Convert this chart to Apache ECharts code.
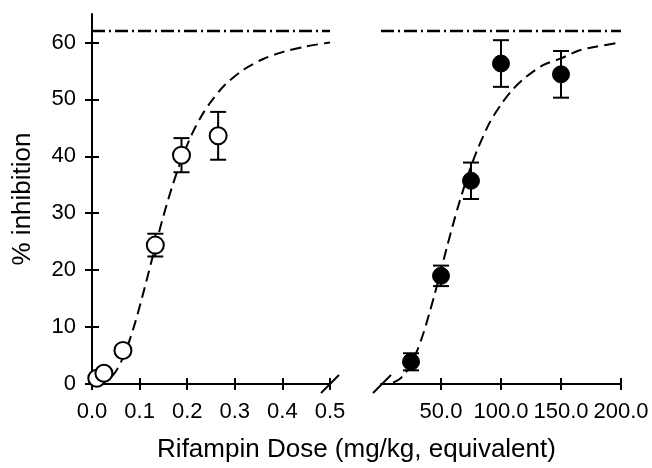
<!DOCTYPE html>
<html>
<head>
<meta charset="utf-8">
<script src="https://cdn.jsdelivr.net/npm/echarts@6/dist/echarts.min.js"></script>
<style>
html,body{margin:0;padding:0;background:#fff;}
#c{width:652px;height:468px;}
</style>
</head>
<body>
<div id="c"></div>
<script>
// ---- data ----
var leftDose = [0.01, 0.025, 0.065, 0.133, 0.188, 0.265];
var leftInhib = [1.0, 1.9, 5.9, 24.4, 40.2, 43.6];
var leftErr = [0.5, 0.6, 0.8, 2.0, 3.0, 4.2];

var rightDose = [25, 50, 75, 100, 150];
var rightInhib = [3.9, 19.0, 35.7, 56.3, 54.4];
var rightErr = [1.5, 1.8, 3.2, 4.1, 4.1];

var leftCurveX = [0.01, 0.03, 0.05, 0.07, 0.09, 0.11, 0.13, 0.15, 0.17, 0.19, 0.21, 0.23, 0.25, 0.28, 0.32, 0.36, 0.40, 0.45, 0.50];
var leftCurveY = [0.02, 0.5, 2.2, 5.6, 10.6, 16.7, 23.2, 29.5, 35.1, 39.9, 43.9, 47.1, 49.6, 52.6, 55.3, 57.1, 58.3, 59.3, 60.0];

var rightCurveX = [10, 15, 20, 25, 30, 35, 40, 45, 50, 55, 60, 65, 70, 75, 80, 90, 100, 110, 120, 135, 150, 165, 180, 200];
var rightCurveY = [0.24, 0.8, 1.8, 3.5, 5.8, 8.7, 12.2, 16.0, 20.0, 24.1, 28.0, 31.7, 35.1, 38.2, 41.0, 45.7, 49.1, 51.8, 53.8, 56.0, 57.2, 58.6, 59.3, 60.0];

var maxLevel = 62;
var yTicks = [0, 10, 20, 30, 40, 50, 60];
var leftXTicks = [0, 0.1, 0.2, 0.3, 0.4, 0.5];
var rightXTicks = [50, 100, 150, 200];
var leftXRange = [0, 0.5];
var rightXRange = [0, 200];
var yRange = [0, 65];

var xTitle = 'Rifampin Dose (mg/kg, equivalent)';
var yTitle = '% inhibition';

// ---- chart ----
var FONT = 'Liberation Sans, Arial, sans-serif';
var chart = echarts.init(document.getElementById('c'), null, {renderer: 'canvas'});

function zip(a, b, c) {
  return a.map(function (v, i) { return c ? [v, b[i], c[i]] : [v, b[i]]; });
}

function errItem(params, api) {
  var x = api.value(0), y = api.value(1), e = api.value(2);
  var t = api.coord([x, y + e]);
  var b = api.coord([x, y - e]);
  var hw = 8;
  var st = {stroke: '#000', lineWidth: 2};
  return {
    type: 'group',
    children: [
      {type: 'line', shape: {x1: t[0], y1: t[1], x2: b[0], y2: b[1]}, style: st},
      {type: 'line', shape: {x1: t[0] - hw, y1: t[1], x2: t[0] + hw, y2: t[1]}, style: st},
      {type: 'line', shape: {x1: b[0] - hw, y1: b[1], x2: b[0] + hw, y2: b[1]}, style: st}
    ]
  };
}

var axisLineStyle = {show: true, lineStyle: {color: '#000', width: 2}};
var labelStyle = {color: '#000', fontSize: 22, fontFamily: FONT};

function xAxes(gridIndex, range, ticks, fmt) {
  return [
    {
      type: 'value', gridIndex: gridIndex, position: 'bottom', min: range[0], max: range[1],
      axisLine: axisLineStyle,
      axisTick: {show: true, inside: false, length: 6, customValues: ticks, lineStyle: {color: '#000', width: 2}},
      axisLabel: Object.assign({show: true, margin: 17, customValues: ticks, formatter: fmt}, labelStyle),
      splitLine: {show: false}
    },
    {
      type: 'value', gridIndex: gridIndex, position: 'bottom', offset: 0, min: range[0], max: range[1],
      axisLine: {show: false},
      axisTick: {show: true, inside: true, length: 6, customValues: ticks, lineStyle: {color: '#000', width: 2}},
      axisLabel: {show: false},
      splitLine: {show: false}
    }
  ];
}

var xAxisList = []
  .concat(xAxes(0, leftXRange, leftXTicks, function (v) { return v.toFixed(1); }))
  .concat(xAxes(1, rightXRange, rightXTicks, function (v) { return v.toFixed(1); }));

var yAxisList = [
  {
    type: 'value', gridIndex: 0, position: 'left', min: yRange[0], max: yRange[1],
    name: yTitle, nameLocation: 'middle', nameGap: 56,
    nameTextStyle: {color: '#000', fontSize: 26, fontFamily: FONT},
    axisLine: axisLineStyle,
    axisTick: {show: true, inside: false, length: 7, customValues: yTicks, lineStyle: {color: '#000', width: 2}},
    axisLabel: Object.assign({show: true, margin: 16, customValues: yTicks}, labelStyle),
    splitLine: {show: false}
  },
  {
    type: 'value', gridIndex: 0, position: 'left', offset: 0, min: yRange[0], max: yRange[1],
    axisLine: {show: false},
    axisTick: {show: true, inside: true, length: 7, customValues: yTicks, lineStyle: {color: '#000', width: 2}},
    axisLabel: {show: false},
    splitLine: {show: false}
  },
  {
    type: 'value', gridIndex: 1, min: yRange[0], max: yRange[1],
    axisLine: {show: false}, axisTick: {show: false}, axisLabel: {show: false}, splitLine: {show: false}
  }
];

var option = {
  backgroundColor: '#fff',
  animation: false,
  grid: [
    {left: 92, top: 14, width: 238, height: 370, containLabel: false},
    {left: 381, top: 14, width: 240, height: 370, containLabel: false}
  ],
  xAxis: xAxisList,
  yAxis: yAxisList,
  series: [
    {
      type: 'line', xAxisIndex: 0, yAxisIndex: 0, data: [[leftXRange[0], maxLevel], [leftXRange[1], maxLevel]],
      symbol: 'none', lineStyle: {color: '#000', width: 2.5, type: [13, 4, 2, 4]}, z: 2
    },
    {
      type: 'line', xAxisIndex: 2, yAxisIndex: 2, data: [[rightXRange[0], maxLevel], [rightXRange[1], maxLevel]],
      symbol: 'none', lineStyle: {color: '#000', width: 2.5, type: [13, 4, 2, 4]}, z: 2
    },
    {
      type: 'line', xAxisIndex: 0, yAxisIndex: 0, data: zip(leftCurveX, leftCurveY), smooth: 0.3,
      symbol: 'none', lineStyle: {color: '#000', width: 2, type: [11, 6]}, z: 2
    },
    {
      type: 'line', xAxisIndex: 2, yAxisIndex: 2, data: zip(rightCurveX, rightCurveY), smooth: 0.3,
      symbol: 'none', lineStyle: {color: '#000', width: 2, type: [11, 6]}, z: 2
    },
    {
      type: 'custom', xAxisIndex: 0, yAxisIndex: 0, data: zip(leftDose, leftInhib, leftErr),
      renderItem: errItem, z: 3
    },
    {
      type: 'custom', xAxisIndex: 2, yAxisIndex: 2, data: zip(rightDose, rightInhib, rightErr),
      renderItem: errItem, z: 3
    },
    {
      type: 'scatter', xAxisIndex: 0, yAxisIndex: 0, data: zip(leftDose, leftInhib),
      symbol: 'circle', symbolSize: 17,
      itemStyle: {color: '#fff', borderColor: '#000', borderWidth: 2, opacity: 1}, z: 5
    },
    {
      type: 'scatter', xAxisIndex: 2, yAxisIndex: 2, data: zip(rightDose, rightInhib),
      symbol: 'circle', symbolSize: 17,
      itemStyle: {color: '#000', borderColor: '#000', borderWidth: 1, opacity: 1}, z: 5
    }
  ]
};
chart.setOption(option);

// axis break marks and shared x-axis title, placed from axis coordinates
var pL = chart.convertToPixel({xAxisIndex: 0, yAxisIndex: 0}, [leftXRange[1], yRange[0]]);
var pR = chart.convertToPixel({xAxisIndex: 2, yAxisIndex: 2}, [rightXRange[0], yRange[0]]);
var pL0 = chart.convertToPixel({xAxisIndex: 0, yAxisIndex: 0}, [leftXRange[0], yRange[0]]);
var pR1 = chart.convertToPixel({xAxisIndex: 2, yAxisIndex: 2}, [rightXRange[1], yRange[0]]);
var s = 9;
chart.setOption({
  graphic: [
    {type: 'line', shape: {x1: pL[0] - s, y1: pL[1] + s, x2: pL[0] + s, y2: pL[1] - s}, style: {stroke: '#000', lineWidth: 2}, z: 10},
    {type: 'line', shape: {x1: pR[0] - s + 1, y1: pR[1] + s, x2: pR[0] + s + 1, y2: pR[1] - s}, style: {stroke: '#000', lineWidth: 2}, z: 10},
    {type: 'text', x: (pL0[0] + pR1[0]) / 2, y: pL0[1] + 66,
      style: {text: xTitle, fill: '#000', font: '26px ' + FONT, textAlign: 'center', textVerticalAlign: 'middle'}, z: 10}
  ]
});
</script>
</body>
</html>
